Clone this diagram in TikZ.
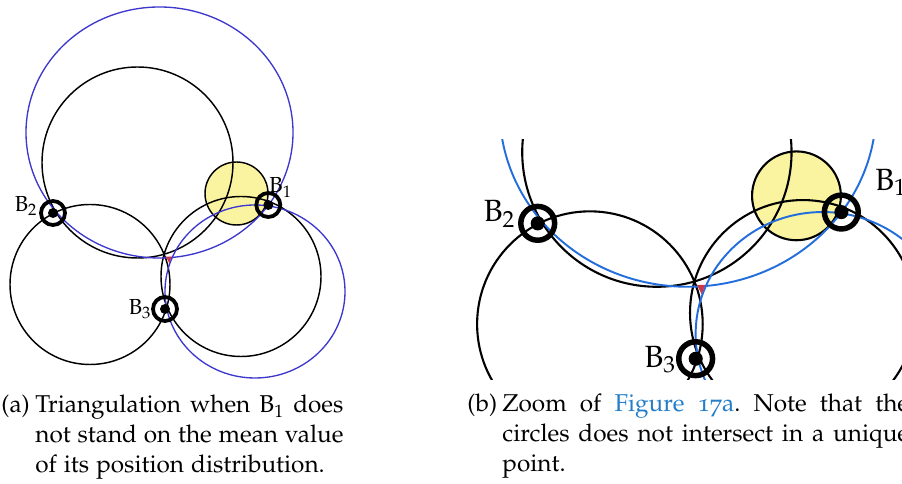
\documentclass[tikz,border=0pt]{standalone}
\usepackage[T1]{fontenc}
\usepackage[sc,osf]{mathpazo}
\definecolor{blueL}{RGB}{60,55,205}
\definecolor{blueR}{RGB}{35,110,220}
\definecolor{yel}{RGB}{250,244,160}
\definecolor{redt}{RGB}{205,55,75}
\definecolor{linkblue}{RGB}{35,125,200}

\newcommand\lk{1}
\newcommand\bluec{blueL}

\tikzset{
  blk/.style={draw=black, line width=\lk*0.65pt},
  blu/.style={draw=\bluec, line width=\lk*0.6pt},
  ring/.style={circle, draw=black, line width=\lk*1.7pt, minimum size=10.8pt, inner sep=0pt, outer sep=0pt},
  lab/.style={inner sep=0pt, font=\fontsize{9.8}{11}\selectfont},
  captxt/.style={inner sep=0pt, font=\fontsize{10.95}{13.4}\selectfont\frenchspacing},
}

% #1 = name prefix, #2 = position of the B1 label
\newcommand\scene[2]{%
  \fill[yel] (236.5,193.5) circle[radius=31.5];
  \draw[blk] (236.5,193.5) circle[radius=31.5];
  \draw[blk] (137.5,162.5) circle[radius=95.5];
  \draw[blk] (90,284.5) circle[radius=80];
  \draw[blk] (241,276.5) circle[radius=80];
  \draw[blu] (159.5,132.5) ellipse[x radius=133.5, y radius=125.5];
  \draw[blu] (255,291.5) ellipse[x radius=90, y radius=86.5];
  \fill[redt] (166,256.7) -- (171.7,256.7) -- (169.3,263.3) -- cycle;
  \node[ring] (#1b1) at (268.3,205) {};
  \node[ring] (#1b2) at (53,213) {};
  \node[ring] (#1b3) at (165,309) {};
  \fill (#1b1) circle[radius=5];
  \fill (#1b2) circle[radius=5];
  \fill (#1b3) circle[radius=5];
  \node[lab, anchor=base west] (#1l1) at (#2) {B$_1$};
  \node[lab, anchor=base east] (#1l2) at (38,212) {B$_2$};
  \node[lab, anchor=base east] (#1l3) at (152,315) {B$_3$};
}

\begin{document}
\begin{tikzpicture}[x=0.45pt, y=-0.45pt]
\useasboundingbox (0,0) rectangle (902,484);
\clip (0,0) rectangle (902,484);

% left panel
\begin{scope}
  \scene{L}{269,193}
\end{scope}

% right panel (zoom)
\begin{scope}
  \clip (465,140) rectangle (902,380);
  \begin{scope}[shift={(463,-77)}, scale=1.41, transform shape]
    \renewcommand\lk{1.45}\renewcommand\bluec{blueR}
    \scene{R}{292,189.4}
  \end{scope}
\end{scope}

% captions
\node[captxt, anchor=base west] (ca) at (1,413) {(a)};
\node[captxt, anchor=base west, text width=138.6pt, align=justify] (ta) at (35,413)
  {Triangulation when B$_1$ does\linebreak not stand on the mean value\linebreak of its position distribution.};
\node[captxt, anchor=base west] (cb) at (467,412) {(b)};
\node[captxt, anchor=base west, text width=183pt, align=justify] (tb) at (502,412)
  {Zoom of \textcolor{linkblue}{Figure 17a}. Note that the\linebreak circles does not intersect in a unique\linebreak point.};
\end{tikzpicture}
\end{document}
